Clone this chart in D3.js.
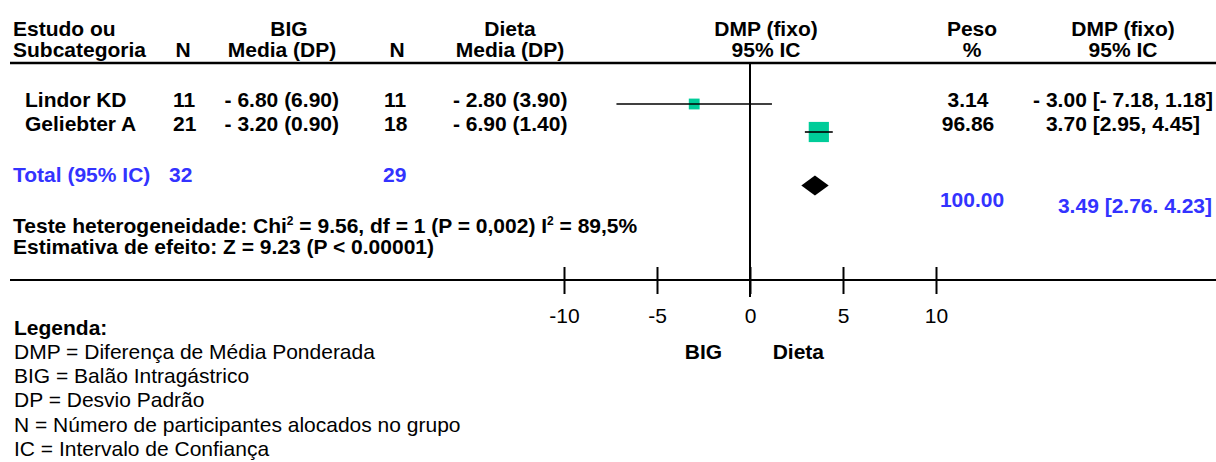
<!DOCTYPE html>
<html>
<head>
<meta charset="utf-8">
<script src="https://cdn.jsdelivr.net/npm/d3@7"></script>
<style>
  html, body { margin: 0; padding: 0; background: #fff; }
  svg { display: block; font-family: "Liberation Sans", Arial, sans-serif; }
  .b { font-weight: bold; font-size: 21px; fill: #000; }
  .r { font-size: 21px; fill: #000; }
  .blue { fill: #3333ff; }
</style>
</head>
<body>
<svg id="chart" width="1216" height="462"></svg>
<script>
// ---------------- data ----------------
const studies   = ["Lindor KD", "Geliebter A"];
const bigN      = [11, 21];
const bigMean   = [-6.80, -3.20];
const bigSD     = [6.90, 0.90];
const dietN     = [11, 18];
const dietMean  = [-2.80, -6.90];
const dietSD    = [3.90, 1.40];
const weights   = [3.14, 96.86];
const effect    = [-3.00, 3.70];
const ciLow     = [-7.18, 2.95];
const ciHigh    = [1.18, 4.45];

const totalLabel  = "Total (95% IC)";
const totalBigN   = 32;
const totalDietN  = 29;
const totalWeight = 100.00;
const totalEffect = 3.49;
const totalLow    = 2.76;
const totalHigh   = 4.23;

const axisTicks    = [-10, -5, 0, 5, 10];
const favourLabels = ["BIG", "Dieta"];

const headerRow1 = ["Estudo ou", "BIG", "Dieta", "DMP (fixo)", "Peso", "DMP (fixo)"];
const headerRow2 = ["Subcategoria", "N", "Media (DP)", "N", "Media (DP)", "95% IC", "%", "95% IC"];

const legendTitle = "Legenda:";
const legendLines = [
  "DMP = Diferença de Média Ponderada",
  "BIG = Balão Intragástrico",
  "DP = Desvio Padrão",
  "N = Número de participantes alocados no grupo",
  "IC = Intervalo de Confiança"
];

// ---------------- helpers ----------------
const fmt = v => (v < 0 ? "- " + Math.abs(v).toFixed(2) : v.toFixed(2));
const meanSd = (m, s) => `${fmt(m)} (${s.toFixed(2)})`;

const svg = d3.select("#chart");

// scales
const x = d3.scaleLinear().domain([-10, 10]).range([564, 936]);
const rowY = d3.scaleLinear().domain([0, 1]).range([107, 131]);   // text baselines
const markY = d3.scaleLinear().domain([0, 1]).range([104, 132]);  // CI / box centres
const boxSize = d3.scaleLinear().domain([0, 100]).range([10.5, 20.5]);

// ---------------- header ----------------
const h1x = [13, 289, 510, 766, 972, 1123];
const h1a = ["start", "middle", "middle", "middle", "middle", "middle"];
svg.append("g").selectAll("text").data(headerRow1).join("text")
  .attr("class", "b").attr("x", (d, i) => h1x[i]).attr("y", 36)
  .attr("text-anchor", (d, i) => h1a[i]).text(d => d);

const h2x = [13, 183, 282, 397, 510, 766, 972, 1123];
const h2a = ["start", "middle", "middle", "middle", "middle", "middle", "middle", "middle"];
svg.append("g").selectAll("text").data(headerRow2).join("text")
  .attr("class", "b").attr("x", (d, i) => h2x[i]).attr("y", 57)
  .attr("text-anchor", (d, i) => h2a[i]).text(d => d);

svg.append("line").attr("x1", 10).attr("x2", 1216).attr("y1", 63).attr("y2", 63)
  .attr("stroke", "#000").attr("stroke-width", 2.6);

// ---------------- zero line & axis ----------------
svg.append("line").attr("x1", x(0)).attr("x2", x(0)).attr("y1", 63).attr("y2", 297)
  .attr("stroke", "#000").attr("stroke-width", 2);

svg.append("line").attr("x1", 10).attr("x2", 1216).attr("y1", 280).attr("y2", 280)
  .attr("stroke", "#000").attr("stroke-width", 2);

const axis = d3.axisBottom(x).tickValues(axisTicks).tickSize(14).tickFormat(d => String(d));
const gAxis = svg.append("g").attr("transform", "translate(0,280)").call(axis);
gAxis.select(".domain").remove();
gAxis.selectAll(".tick line").attr("y1", -13).attr("stroke", "#000").attr("stroke-width", 2);
gAxis.selectAll(".tick text")
  .attr("y", 43).attr("dy", null)
  .attr("font-family", '"Liberation Sans", Arial, sans-serif')
  .attr("font-size", 21).attr("fill", "#000");

svg.append("g").selectAll("text").data(favourLabels).join("text")
  .attr("class", "b").attr("text-anchor", "middle")
  .attr("x", (d, i) => i === 0 ? x(-2.5) : x(2.6)).attr("y", 359)
  .text(d => d);

// ---------------- study rows ----------------
const rows = studies.map((s, i) => ({
  name: s, bn: bigN[i], bm: bigMean[i], bs: bigSD[i],
  dn: dietN[i], dm: dietMean[i], ds: dietSD[i],
  w: weights[i], e: effect[i], lo: ciLow[i], hi: ciHigh[i], i
}));

const rowG = svg.append("g").selectAll("g").data(rows).join("g");
rowG.append("text").attr("class", "b").attr("x", 25).attr("y", d => rowY(d.i)).text(d => d.name);
rowG.append("text").attr("class", "b").attr("x", 173).attr("y", d => rowY(d.i)).text(d => d.bn);
rowG.append("text").attr("class", "b").attr("x", 339).attr("text-anchor", "end")
  .attr("y", d => rowY(d.i)).text(d => meanSd(d.bm, d.bs));
rowG.append("text").attr("class", "b").attr("x", 384).attr("y", d => rowY(d.i)).text(d => d.dn);
rowG.append("text").attr("class", "b").attr("x", 453).attr("y", d => rowY(d.i)).text(d => meanSd(d.dm, d.ds));
rowG.append("text").attr("class", "b").attr("x", 968).attr("text-anchor", "middle")
  .attr("y", d => rowY(d.i)).text(d => d.w.toFixed(2));
rowG.append("text").attr("class", "b").attr("x", 1123).attr("text-anchor", "middle")
  .attr("y", d => rowY(d.i)).text(d => `${fmt(d.e)} [${fmt(d.lo)}, ${fmt(d.hi)}]`);

// boxes
rowG.append("rect")
  .attr("x", d => x(d.e) - boxSize(d.w) / 2)
  .attr("y", d => markY(d.i) - boxSize(d.w) / 2)
  .attr("width", d => boxSize(d.w)).attr("height", d => boxSize(d.w))
  .attr("fill", "#00cc99");
// CI lines
rowG.append("line")
  .attr("x1", d => x(d.lo)).attr("x2", d => x(d.hi))
  .attr("y1", d => markY(d.i)).attr("y2", d => markY(d.i))
  .attr("stroke", "#000").attr("stroke-width", 1.6);

// ---------------- total row ----------------
const gTot = svg.append("g");
gTot.append("text").attr("class", "b blue").attr("x", 13).attr("y", 182).text(totalLabel);
gTot.append("text").attr("class", "b blue").attr("x", 169).attr("y", 182).text(totalBigN);
gTot.append("text").attr("class", "b blue").attr("x", 383).attr("y", 182).text(totalDietN);
gTot.append("text").attr("class", "b blue").attr("x", 972).attr("y", 207)
  .attr("text-anchor", "middle").text(totalWeight.toFixed(2));
gTot.append("text").attr("class", "b blue").attr("x", 1135).attr("y", 213)
  .attr("text-anchor", "middle")
  .text(`${fmt(totalEffect)} [${fmt(totalLow)}. ${fmt(totalHigh)}]`);

const dy = 185.5, dh = 10;
gTot.append("path")
  .attr("d", d3.line()([[x(totalLow), dy], [x(totalEffect), dy - dh], [x(totalHigh), dy], [x(totalEffect), dy + dh]]) + "Z")
  .attr("fill", "#000");

// ---------------- heterogeneity ----------------
const t1 = svg.append("text").attr("class", "b").attr("x", 13).attr("y", 233);
t1.append("tspan").text("Teste heterogeneidade: Chi");
t1.append("tspan").attr("font-size", 12).attr("dy", -8).text("2");
t1.append("tspan").attr("dy", 8).text(" = 9.56, df = 1 (P = 0,002) I");
t1.append("tspan").attr("font-size", 12).attr("dy", -8).text("2");
t1.append("tspan").attr("dy", 8).text(" = 89,5%");

svg.append("text").attr("class", "b").attr("x", 13).attr("y", 254)
  .text("Estimativa de efeito: Z = 9.23 (P < 0.00001)");

// ---------------- legend ----------------
svg.append("text").attr("class", "b").attr("x", 14).attr("y", 335).text(legendTitle);
svg.append("g").selectAll("text").data(legendLines).join("text")
  .attr("class", "r").attr("x", 14).attr("y", (d, i) => 359 + i * 24.2).text(d => d);
</script>
</body>
</html>
